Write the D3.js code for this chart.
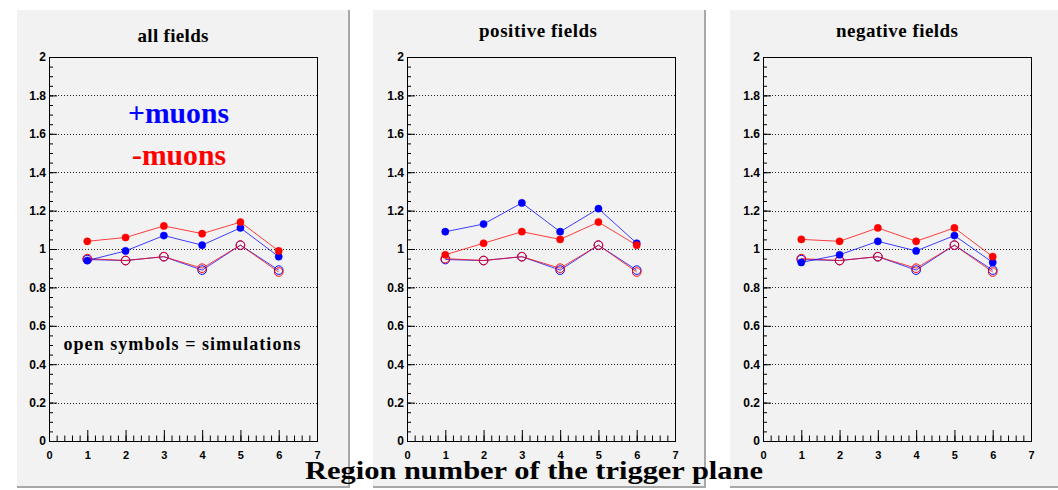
<!DOCTYPE html>
<html>
<head>
<meta charset="utf-8">
<script src="https://cdn.jsdelivr.net/npm/d3@7"></script>
<style>
  html, body { margin: 0; padding: 0; background: #ffffff; }
  svg { display: block; }
</style>
</head>
<body>
<svg id="chart" width="1058" height="490"></svg>
<script>
// Trigger-plane regions (x) and tick labels
const regions = [1, 2, 3, 4, 5, 6];
const xTickValues = [0, 1, 2, 3, 4, 5, 6, 7];
const yTickValues = [0, 0.2, 0.4, 0.6, 0.8, 1, 1.2, 1.4, 1.6, 1.8, 2];
const yTickLabels = ["0", "0.2", "0.4", "0.6", "0.8", "1", "1.2", "1.4", "1.6", "1.8", "2"];

const panelTitles = ["all fields", "positive fields", "negative fields"];

// Measured ratios per region: +muons (blue) and -muons (red)
const plusAll = [0.94, 0.99, 1.07, 1.02, 1.11, 0.96];
const minusAll = [1.04, 1.06, 1.12, 1.08, 1.14, 0.99];
const plusPos = [1.09, 1.13, 1.24, 1.09, 1.21, 1.03];
const minusPos = [0.97, 1.03, 1.09, 1.05, 1.14, 1.02];
const plusNeg = [0.93, 0.97, 1.04, 0.99, 1.07, 0.93];
const minusNeg = [1.05, 1.04, 1.11, 1.04, 1.11, 0.96];

// Simulated ratios (open symbols), same in every panel
const plusSim = [0.945, 0.94, 0.96, 0.89, 1.02, 0.89];
const minusSim = [0.95, 0.94, 0.96, 0.90, 1.02, 0.88];

const plusData = [plusAll, plusPos, plusNeg];
const minusData = [minusAll, minusPos, minusNeg];

const BLUE = "#0000ff", RED = "#ff0000";
const PAD_BG = "#f2f2f2";

// Layout of the three pads and their frames
const padLefts = [17, 373, 730];
const frameLefts = [49, 407, 763];
const titleX = [173, 538, 897];
const titleY = [42, 37, 37];
const titleLen = [71, 118, 122];
const padTop = 10, padW = 333, padH = 478;
const frameTop = 57, frameBottom = 441, frameW = 268;

const svg = d3.select("#chart");
const serif = "'Liberation Serif', 'DejaVu Serif', serif";
const sans = "'Liberation Sans', Arial, sans-serif";

panelTitles.forEach((title, i) => {
  const g = svg.append("g");
  const pl = padLefts[i];

  // pad background with darker right/bottom edge
  g.append("rect").attr("x", pl).attr("y", padTop).attr("width", padW).attr("height", padH)
    .attr("fill", PAD_BG);
  g.append("line").attr("x1", pl + padW - 1).attr("x2", pl + padW - 1)
    .attr("y1", padTop).attr("y2", padTop + padH)
    .attr("stroke", "#a8a8a8").attr("stroke-width", 2);
  g.append("line").attr("x1", pl).attr("x2", pl + padW)
    .attr("y1", padTop + padH - 1).attr("y2", padTop + padH - 1)
    .attr("stroke", "#a8a8a8").attr("stroke-width", 2);

  const fl = frameLefts[i];
  const x = d3.scaleLinear().domain([0, 7]).range([fl, fl + frameW]);
  const y = d3.scaleLinear().domain([0, 2]).range([frameBottom, frameTop]);

  // horizontal dotted grid
  g.append("g").selectAll("line")
    .data(yTickValues.filter(v => v > 0 && v < 2))
    .join("line")
    .attr("x1", fl).attr("x2", fl + frameW)
    .attr("y1", d => Math.round(y(d)) + 0.5).attr("y2", d => Math.round(y(d)) + 0.5)
    .attr("stroke", "#222").attr("stroke-width", 1)
    .attr("stroke-dasharray", "1,2");

  // y axis: minor and major ticks pointing inward
  const yMinor = d3.axisLeft(y).tickValues(d3.range(0, 41).map(k => k * 0.05))
    .tickSize(-4).tickFormat("");
  const yMajor = d3.axisLeft(y).tickValues(yTickValues)
    .tickSize(-8).tickPadding(3)
    .tickFormat((d, k) => yTickLabels[k]);
  [yMinor, yMajor].forEach(ax => {
    const a = g.append("g").attr("transform", `translate(${fl},0)`).call(ax);
    a.select(".domain").remove();
    a.selectAll("line").attr("stroke", "#000");
    a.selectAll("text").attr("font-family", sans).attr("font-weight", "bold")
      .attr("font-size", 12).attr("fill", "#000");
  });

  // x axis: minor and major ticks pointing upward
  const xMinor = d3.axisBottom(x).tickValues(d3.range(0, 36).map(k => k * 0.2))
    .tickSize(-5.5).tickFormat("");
  const xMajor = d3.axisBottom(x).tickValues(xTickValues)
    .tickSize(-11).tickPadding(10).tickFormat(d3.format("d"));
  [xMinor, xMajor].forEach(ax => {
    const a = g.append("g").attr("transform", `translate(0,${frameBottom})`).call(ax);
    a.select(".domain").remove();
    a.selectAll("line").attr("stroke", "#000");
    a.selectAll("text").attr("font-family", sans).attr("font-weight", "bold")
      .attr("font-size", 11).attr("fill", "#000");
  });

  // frame
  g.append("rect").attr("x", fl + 0.5).attr("y", frameTop + 0.5)
    .attr("width", frameW).attr("height", frameBottom - frameTop)
    .attr("fill", "none").attr("stroke", "#000").attr("stroke-width", 1);

  // title
  g.append("text").attr("x", titleX[i]).attr("y", titleY[i])
    .attr("text-anchor", "middle")
    .attr("font-family", serif).attr("font-weight", "bold").attr("font-size", 19)
    .attr("textLength", titleLen[i]).attr("lengthAdjust", "spacing")
    .text(title);

  const line = d3.line().x((d, k) => x(regions[k])).y(d => y(d));

  const series = [
    { values: plusSim, color: BLUE, open: true },
    { values: minusSim, color: RED, open: true },
    { values: plusData[i], color: BLUE, open: false },
    { values: minusData[i], color: RED, open: false }
  ];

  series.forEach(s => {
    g.append("path").attr("d", line(s.values))
      .attr("fill", "none").attr("stroke", s.color).attr("stroke-width", 1)
      .attr("stroke-opacity", 0.75);
  });
  series.forEach(s => {
    g.append("g").selectAll("circle").data(s.values).join("circle")
      .attr("cx", (d, k) => x(regions[k])).attr("cy", d => y(d))
      .attr("r", s.open ? 4.3 : 3.6)
      .attr("fill", s.open ? "none" : s.color)
      .attr("stroke", s.color).attr("stroke-width", s.open ? 1 : 0.5);
  });

  // legend notes in the first pad
  if (i === 0) {
    g.append("text").attr("x", 178.5).attr("y", 123).attr("text-anchor", "middle")
      .attr("font-family", serif).attr("font-weight", "bold").attr("font-size", 29)
      .attr("fill", BLUE).attr("textLength", 101).attr("lengthAdjust", "spacingAndGlyphs")
      .text("+muons");
    g.append("text").attr("x", 179).attr("y", 165).attr("text-anchor", "middle")
      .attr("font-family", serif).attr("font-weight", "bold").attr("font-size", 29)
      .attr("fill", RED).attr("textLength", 94).attr("lengthAdjust", "spacingAndGlyphs")
      .text("-muons");
    g.append("text").attr("x", 182).attr("y", 350).attr("text-anchor", "middle")
      .attr("font-family", serif).attr("font-weight", "bold").attr("font-size", 18)
      .attr("fill", "#000").attr("textLength", 237).attr("lengthAdjust", "spacing")
      .text("open symbols = simulations");
  }
});

// common x-axis title
svg.append("text").attr("x", 534).attr("y", 479).attr("text-anchor", "middle")
  .attr("font-family", serif).attr("font-weight", "bold").attr("font-size", 26)
  .attr("fill", "#000").attr("textLength", 458).attr("lengthAdjust", "spacingAndGlyphs")
  .text("Region number of the trigger plane");
</script>
</body>
</html>
